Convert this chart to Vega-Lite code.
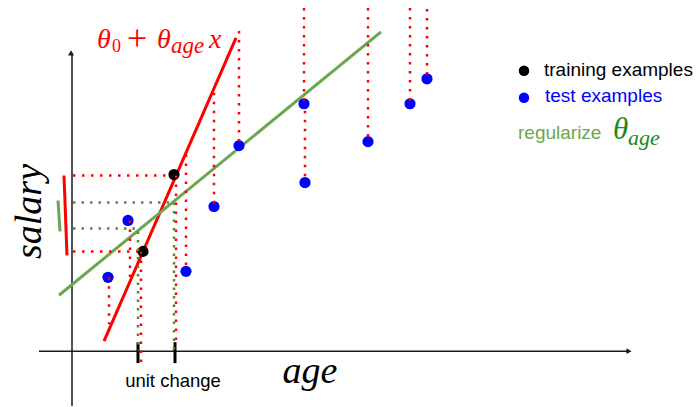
{
  "$schema": "https://vega.github.io/schema/vega-lite/v6.json",
  "width": 697,
  "height": 407,
  "padding": 0,
  "autosize": {"type": "fit", "contains": "padding"},
  "config": {"view": {"stroke": null}},
  "encoding": {
    "x": {"field": "x", "type": "quantitative", "scale": {"domain": [0, 697], "nice": false, "zero": false}, "axis": null},
    "y": {"field": "y", "type": "quantitative", "scale": {"domain": [0, 407], "nice": false, "zero": false}, "axis": null}
  },
  "layer": [
    {
      "data": {"values": [
        {"part": "salary axis", "x": 72, "y": 0, "x2": 72, "y2": 354},
        {"part": "age axis", "x": 39, "y": 55, "x2": 628, "y2": 55}
      ]},
      "mark": {"type": "rule", "color": "#1a1a1a", "strokeWidth": 1.5},
      "encoding": {"x2": {"field": "x2"}, "y2": {"field": "y2"}}
    },
    {
      "data": {"values": [{"part": "salary arrow", "x": 71, "y": 354}]},
      "mark": {"type": "point", "shape": "triangle-up", "filled": true, "color": "#1a1a1a", "size": 35, "opacity": 1}
    },
    {
      "data": {"values": [{"part": "age arrow", "x": 629, "y": 55}]},
      "mark": {"type": "point", "shape": "triangle-right", "filled": true, "color": "#1a1a1a", "size": 35, "opacity": 1}
    },
    {
      "data": {"values": [
        {"part": "unit tick", "x": 138, "y": 64, "x2": 138, "y2": 43},
        {"part": "unit tick", "x": 175, "y": 64, "x2": 175, "y2": 43}
      ]},
      "mark": {"type": "rule", "color": "#000000", "strokeWidth": 3},
      "encoding": {"x2": {"field": "x2"}, "y2": {"field": "y2"}}
    },
    {
      "data": {"values": [
        {"part": "fit", "x": 104, "y": 65, "x2": 236, "y2": 369},
        {"part": "marker", "x": 64, "y": 231, "x2": 67, "y2": 151}
      ]},
      "mark": {"type": "rule", "color": "#ff0000", "strokeWidth": 3},
      "encoding": {"x2": {"field": "x2"}, "y2": {"field": "y2"}}
    },
    {
      "data": {"values": [
        {"part": "fit", "x": 59, "y": 111, "x2": 381, "y2": 375},
        {"part": "marker", "x": 58, "y": 206, "x2": 60, "y2": 175}
      ]},
      "mark": {"type": "rule", "color": "#6aa84f", "strokeWidth": 3},
      "encoding": {"x2": {"field": "x2"}, "y2": {"field": "y2"}}
    },
    {
      "data": {"values": [
        {"set": "training", "x": 174, "y": 232},
        {"set": "training", "x": 143, "y": 155},
        {"set": "test", "x": 108, "y": 129},
        {"set": "test", "x": 128, "y": 186},
        {"set": "test", "x": 186, "y": 135},
        {"set": "test", "x": 214, "y": 200},
        {"set": "test", "x": 239, "y": 261},
        {"set": "test", "x": 304, "y": 303},
        {"set": "test", "x": 305, "y": 224},
        {"set": "test", "x": 368, "y": 265},
        {"set": "test", "x": 410, "y": 303},
        {"set": "test", "x": 427, "y": 328}
      ]},
      "mark": {"type": "circle", "size": 125, "opacity": 1},
      "encoding": {
        "color": {"field": "set", "type": "nominal", "scale": {"domain": ["training", "test"], "range": ["#000000", "#0000ff"]}, "legend": null}
      }
    },
    {
      "data": {"values": [
        {"x": 109, "y": 129, "x2": 109, "y2": 82},
        {"x": 130, "y": 186, "x2": 130, "y2": 127},
        {"x": 186, "y": 252, "x2": 186, "y2": 135},
        {"x": 214, "y": 314, "x2": 214, "y2": 200},
        {"x": 239, "y": 376, "x2": 239, "y2": 261},
        {"x": 304, "y": 399, "x2": 304, "y2": 303},
        {"x": 305, "y": 296, "x2": 305, "y2": 224},
        {"x": 368, "y": 399, "x2": 368, "y2": 265},
        {"x": 410, "y": 399, "x2": 410, "y2": 303},
        {"x": 427, "y": 398, "x2": 427, "y2": 328},
        {"x": 141, "y": 155, "x2": 141, "y2": 44},
        {"x": 176, "y": 231, "x2": 176, "y2": 60},
        {"x": 73, "y": 231, "x2": 170, "y2": 231},
        {"x": 73, "y": 155, "x2": 138, "y2": 155}
      ]},
      "mark": {"type": "rule", "color": "#ff0000", "strokeWidth": 2.5, "strokeDash": [2.5, 6.5]},
      "encoding": {"x2": {"field": "x2"}, "y2": {"field": "y2"}}
    },
    {
      "data": {"values": [
        {"x": 73, "y": 204, "x2": 172, "y2": 204},
        {"x": 73, "y": 178, "x2": 138, "y2": 178},
        {"x": 138, "y": 175, "x2": 138, "y2": 55},
        {"x": 174, "y": 204, "x2": 174, "y2": 55}
      ]},
      "mark": {"type": "rule", "color": "#4f8a3a", "strokeWidth": 2.5, "strokeDash": [2.5, 6]},
      "encoding": {"x2": {"field": "x2"}, "y2": {"field": "y2"}}
    },
    {
      "data": {"values": [
        {"t": "θ", "x": 97, "y": 359},
        {"t": "θ", "x": 157, "y": 359},
        {"t": "x", "x": 209, "y": 359}
      ]},
      "mark": {"type": "text", "font": "Liberation Serif", "fontStyle": "italic", "fontSize": 28, "color": "#ff0000", "align": "left", "baseline": "alphabetic"},
      "encoding": {"text": {"field": "t"}}
    },
    {
      "data": {"values": [{"t": "+", "x": 127, "y": 357}]},
      "mark": {"type": "text", "font": "Liberation Serif", "fontSize": 36, "color": "#ff0000", "align": "left", "baseline": "alphabetic"},
      "encoding": {"text": {"field": "t"}}
    },
    {
      "data": {"values": [{"t": "0", "x": 112, "y": 355}]},
      "mark": {"type": "text", "font": "Liberation Serif", "fontSize": 18, "color": "#ff0000", "align": "left", "baseline": "alphabetic"},
      "encoding": {"text": {"field": "t"}}
    },
    {
      "data": {"values": [{"t": "age", "x": 171, "y": 354}]},
      "mark": {"type": "text", "font": "Liberation Serif", "fontStyle": "italic", "fontSize": 23, "color": "#ff0000", "align": "left", "baseline": "alphabetic"},
      "encoding": {"text": {"field": "t"}}
    },
    {
      "data": {"values": [{"t": "salary", "x": 41, "y": 195}]},
      "mark": {"type": "text", "font": "Liberation Serif", "fontStyle": "italic", "fontSize": 38, "color": "#000000", "align": "center", "baseline": "alphabetic", "angle": 270},
      "encoding": {"text": {"field": "t"}}
    },
    {
      "data": {"values": [{"t": "age", "x": 310, "y": 23}]},
      "mark": {"type": "text", "font": "Liberation Serif", "fontStyle": "italic", "fontSize": 38, "color": "#000000", "align": "center", "baseline": "alphabetic"},
      "encoding": {"text": {"field": "t"}}
    },
    {
      "data": {"values": [{"t": "unit change", "x": 173, "y": 19}]},
      "mark": {"type": "text", "font": "Liberation Sans", "fontSize": 18.5, "color": "#000000", "align": "center", "baseline": "alphabetic"},
      "encoding": {"text": {"field": "t"}}
    },
    {
      "data": {"values": [
        {"set": "training", "x": 524, "y": 336},
        {"set": "test", "x": 524, "y": 309}
      ]},
      "mark": {"type": "circle", "size": 110, "opacity": 1},
      "encoding": {"color": {"field": "set", "type": "nominal", "legend": null}}
    },
    {
      "data": {"values": [
        {"set": "training", "t": "training examples", "x": 544, "y": 331},
        {"set": "test", "t": "test examples", "x": 545, "y": 305}
      ]},
      "mark": {"type": "text", "font": "Liberation Sans", "fontSize": 19, "align": "left", "baseline": "alphabetic"},
      "encoding": {"text": {"field": "t"}, "color": {"field": "set", "type": "nominal", "legend": null}}
    },
    {
      "data": {"values": [{"t": "regularize", "x": 518, "y": 268}]},
      "mark": {"type": "text", "font": "Liberation Sans", "fontSize": 19, "color": "#6aa84f", "align": "left", "baseline": "alphabetic"},
      "encoding": {"text": {"field": "t"}}
    },
    {
      "data": {"values": [{"t": "θ", "x": 613, "y": 268}]},
      "mark": {"type": "text", "font": "Liberation Serif", "fontStyle": "italic", "fontSize": 31, "color": "#1a8a1a", "align": "left", "baseline": "alphabetic"},
      "encoding": {"text": {"field": "t"}}
    },
    {
      "data": {"values": [{"t": "age", "x": 628, "y": 262}]},
      "mark": {"type": "text", "font": "Liberation Serif", "fontStyle": "italic", "fontSize": 22, "color": "#1a8a1a", "align": "left", "baseline": "alphabetic"},
      "encoding": {"text": {"field": "t"}}
    }
  ]
}
